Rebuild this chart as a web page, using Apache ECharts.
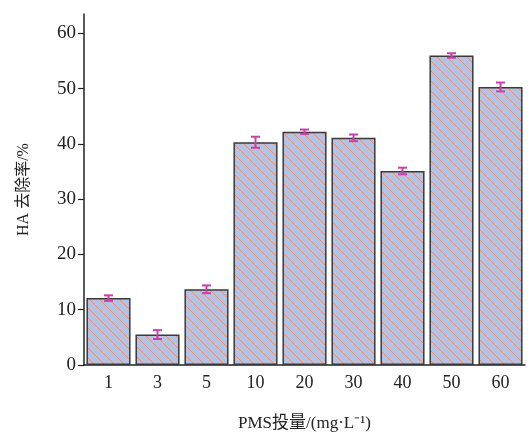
<!DOCTYPE html>
<html>
<head>
<meta charset="utf-8">
<script src="https://cdn.jsdelivr.net/npm/echarts@6/dist/echarts.min.js"></script>
<style>
  html, body { margin: 0; padding: 0; background: #fff; }
  #chart { width: 532px; height: 440px; }
</style>
</head>
<body>
<div id="chart"></div>
<script>
// PMS dosage (mg/L) and HA removal rate (%)
var doses = ['1', '3', '5', '10', '20', '30', '40', '50', '60'];
var removal = [12.1, 5.5, 13.7, 40.3, 42.2, 41.1, 35.1, 56.0, 50.3];
var errors = [0.5, 0.8, 0.7, 1.0, 0.4, 0.6, 0.6, 0.4, 0.8];
var yTicks = [0, 10, 20, 30, 40, 50, 60];

// hatched fill: light blue with thin orange diagonal lines
function makeHatch() {
  var s = 10;
  var c = document.createElement('canvas');
  c.width = s; c.height = s;
  var ctx = c.getContext('2d');
  ctx.fillStyle = '#b3c3e6';
  ctx.fillRect(0, 0, s, s);
  ctx.strokeStyle = '#ee8c68';
  ctx.lineWidth = 0.9;
  ctx.beginPath();
  ctx.moveTo(-1, -1); ctx.lineTo(s + 1, s + 1);
  ctx.moveTo(-1, s - 1); ctx.lineTo(1, s + 1);
  ctx.moveTo(s - 1, -1); ctx.lineTo(s + 1, 1);
  ctx.stroke();
  return c;
}

var errData = removal.map(function (v, i) {
  return [i, v - errors[i], v + errors[i]];
});

var serif = '"Liberation Serif", "Noto Sans CJK SC", serif';

var chart = echarts.init(document.getElementById('chart'));
var option = {
  animation: false,
  grid: { left: 84, right: 7, top: 14, bottom: 75 },
  xAxis: {
    type: 'category',
    data: doses,
    name: 'PMS投量/(mg·L⁻¹)',
    nameLocation: 'middle',
    nameGap: 50,
    nameTextStyle: { fontFamily: serif, fontSize: 17, color: '#222' },
    axisLine: { lineStyle: { color: '#222', width: 1.5 } },
    axisTick: { show: false },
    axisLabel: { fontFamily: serif, fontSize: 18, color: '#222', margin: 9 }
  },
  yAxis: {
    type: 'value',
    min: 0,
    max: 63.5,
    interval: 10,
    name: 'HA 去除率/%',
    nameLocation: 'middle',
    nameGap: 52,
    nameTextStyle: { fontFamily: serif, fontSize: 16, color: '#222' },
    axisLine: { show: true, lineStyle: { color: '#222', width: 1.5 } },
    axisTick: { show: true, length: 6, lineStyle: { color: '#222', width: 1.2 } },
    axisLabel: {
      fontFamily: serif, fontSize: 19, color: '#222', margin: 8,
      showMaxLabel: false,
      formatter: function (v) { return yTicks.indexOf(v) >= 0 ? v : ''; }
    },
    splitLine: { show: false }
  },
  series: [
    {
      type: 'bar',
      data: removal,
      barCategoryGap: '10%',
      itemStyle: {
        color: { image: makeHatch(), repeat: 'repeat' },
        borderColor: '#3a3a3a',
        borderWidth: 1.5
      }
    },
    {
      type: 'custom',
      data: errData,
      z: 10,
      renderItem: function (params, api) {
        var lo = api.coord([api.value(0), api.value(1)]);
        var hi = api.coord([api.value(0), api.value(2)]);
        var w = 4.5;
        var st = { stroke: '#cc3fa6', lineWidth: 2 };
        return {
          type: 'group',
          children: [
            { type: 'line', shape: { x1: lo[0], y1: lo[1], x2: hi[0], y2: hi[1] }, style: st },
            { type: 'line', shape: { x1: lo[0] - w, y1: lo[1], x2: lo[0] + w, y2: lo[1] }, style: st },
            { type: 'line', shape: { x1: hi[0] - w, y1: hi[1], x2: hi[0] + w, y2: hi[1] }, style: st }
          ]
        };
      }
    }
  ]
};
chart.setOption(option);
</script>
</body>
</html>
